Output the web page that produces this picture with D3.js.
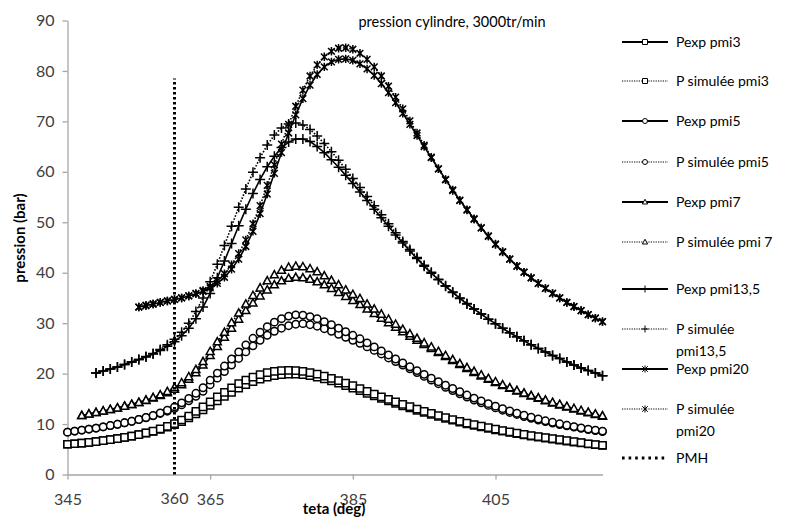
<!DOCTYPE html>
<html><head><meta charset="utf-8">
<script src="https://cdn.jsdelivr.net/npm/d3@7/dist/d3.min.js"></script>
<style>body{margin:0;background:#fff}svg{display:block}</style>
</head><body><svg id="c" width="792" height="518"></svg>
<script>
// ---------- DATA ----------
const teta = [345,346,347,348,349,350,351,352,353,354,355,356,357,358,359,360,361,362,363,364,
  365,366,367,368,369,370,371,372,373,374,375,376,377,378,379,380,381,382,383,384,
  385,386,387,388,389,390,391,392,393,394,395,396,397,398,399,400,401,402,403,404,
  405,406,407,408,409,410,411,412,413,414,415,416,417,418,419,420];
const pexp3 = [6.0,6.1,6.2,6.35,6.5,6.7,6.9,7.1,7.35,7.6,
  7.9,8.2,8.55,8.95,9.4,9.9,10.5,11.2,12.0,12.8,
  13.7,14.6,15.5,16.3,17.1,17.8,18.4,18.9,19.3,19.6,
  19.8,19.9,19.9,19.8,19.6,19.3,18.95,18.55,18.1,17.6,
  17.1,16.6,16.1,15.6,15.1,14.6,14.1,13.6,13.2,12.7,
  12.3,11.9,11.5,11.1,10.75,10.4,10.05,9.75,9.45,9.15,
  8.85,8.6,8.35,8.1,7.85,7.6,7.4,7.2,7.0,6.8,
  6.6,6.4,6.25,6.05,5.9,5.75];
const psim3 = [6.0,6.1,6.2,6.35,6.5,6.7,6.9,7.1,7.35,7.6,
  7.9,8.25,8.6,9.05,9.55,10.1,10.8,11.6,12.5,13.4,
  14.4,15.4,16.3,17.2,18.0,18.7,19.3,19.8,20.2,20.45,
  20.6,20.65,20.6,20.45,20.2,19.9,19.5,19.05,18.6,18.1,
  17.6,17.05,16.5,15.95,15.4,14.9,14.4,13.9,13.45,12.95,
  12.5,12.1,11.7,11.3,10.9,10.55,10.2,9.9,9.6,9.3,
  9.0,8.7,8.45,8.2,7.95,7.7,7.5,7.3,7.1,6.9,
  6.7,6.5,6.3,6.1,5.95,5.8];
const pexp5 = [8.4,8.6,8.8,9.0,9.2,9.45,9.7,9.95,10.25,10.55,
  10.9,11.25,11.65,12.1,12.55,13.1,13.8,14.6,15.5,16.5,
  17.8,19.1,20.4,21.7,23.0,24.3,25.5,26.6,27.6,28.4,
  29.0,29.5,29.8,29.9,29.7,29.4,28.9,28.4,27.8,27.2,
  26.6,26.0,25.3,24.6,23.9,23.1,22.4,21.7,20.95,20.2,
  19.45,18.7,18.0,17.3,16.65,16.0,15.35,14.75,14.2,13.7,
  13.2,12.75,12.3,11.9,11.5,11.15,10.8,10.5,10.2,9.9,
  9.65,9.4,9.15,8.9,8.7,8.5];
const psim5 = [8.4,8.6,8.8,9.0,9.2,9.45,9.7,9.95,10.25,10.55,
  10.9,11.3,11.7,12.2,12.75,13.4,14.2,15.1,16.1,17.2,
  18.7,20.1,21.5,22.9,24.3,25.7,27.0,28.2,29.3,30.2,
  30.9,31.4,31.65,31.6,31.3,30.9,30.3,29.7,29.0,28.3,
  27.6,26.9,26.1,25.3,24.5,23.7,22.9,22.1,21.35,20.6,
  19.85,19.1,18.4,17.7,17.05,16.4,15.75,15.15,14.6,14.05,
  13.55,13.05,12.6,12.15,11.75,11.35,11.0,10.65,10.35,10.05,
  9.75,9.5,9.25,9.0,8.8,8.6];
// pmi7 starts at 347 deg
const pexp7 = [11.7,12.0,12.3,12.6,12.9,13.2,13.55,13.9,
  14.3,14.7,15.15,15.65,16.2,16.9,17.8,18.9,20.2,21.7,
  23.6,25.4,27.2,29.0,30.8,32.5,34.0,35.4,36.6,37.6,
  38.4,38.9,39.1,39.0,38.7,38.2,37.6,36.9,36.1,35.3,
  34.5,33.7,32.8,31.9,31.0,30.1,29.2,28.3,27.4,26.6,
  25.8,25.0,24.2,23.4,22.6,21.8,21.0,20.25,19.55,18.9,
  18.25,17.65,17.1,16.55,16.05,15.55,15.1,14.65,14.2,13.8,
  13.4,13.0,12.6,12.25,11.9,11.55];
const psim7 = [11.7,12.0,12.3,12.6,12.9,13.2,13.55,13.9,
  14.3,14.75,15.25,15.8,16.45,17.25,18.2,19.4,20.8,22.4,
  24.4,26.3,28.2,30.1,32.0,33.8,35.5,37.0,38.4,39.6,
  40.5,41.1,41.3,41.2,40.8,40.2,39.4,38.5,37.6,36.6,
  35.7,34.9,33.8,32.8,31.8,30.8,29.8,28.8,27.9,27.0,
  26.1,25.3,24.4,23.6,22.8,22.0,21.2,20.45,19.75,19.05,
  18.4,17.8,17.2,16.65,16.15,15.65,15.2,14.75,14.3,13.9,
  13.5,13.1,12.7,12.35,12.0,11.65];
// pmi13,5 starts at 349 deg
const pexp135 = [20.1,20.5,20.9,21.3,21.8,22.3,
  22.8,23.3,23.9,24.6,25.4,26.3,27.5,29.0,30.9,33.2,
  35.9,39.0,42.3,45.8,49.3,52.6,55.7,58.5,61.0,63.1,
  64.8,65.9,66.5,66.5,66.0,65.0,63.8,62.4,60.9,59.3,
  57.7,56.0,54.3,52.6,50.9,49.2,47.5,45.9,44.3,42.8,
  41.3,39.9,38.6,37.3,36.1,34.9,33.8,32.8,31.8,30.8,
  29.9,29.0,28.1,27.3,26.5,25.7,25.0,24.3,23.6,23.0,
  22.3,21.7,21.1,20.6,20.1,19.6];
const psim135 = [20.1,20.5,20.9,21.3,21.8,22.3,
  22.8,23.4,24.0,24.8,25.7,26.8,28.2,30.0,32.3,35.0,
  38.2,41.7,45.4,49.2,53.0,56.6,59.9,62.8,65.3,67.3,
  68.7,69.5,69.7,69.3,68.4,67.1,65.6,64.0,62.3,60.5,
  58.7,56.9,55.1,53.3,51.5,49.7,47.9,46.2,44.6,43.0,
  41.5,40.1,38.7,37.4,36.2,35.0,33.9,32.8,31.8,30.8,
  29.9,29.0,28.1,27.3,26.5,25.7,25.0,24.3,23.6,23.0,
  22.3,21.7,21.1,20.6,20.1,19.6];
// pmi20 starts at 355 deg
const pexp20 = [33.2,33.5,33.8,34.1,34.4,34.7,35.0,35.4,35.8,36.3,
  37.0,37.9,39.1,40.7,42.7,45.2,48.2,51.7,55.6,59.7,
  63.8,67.7,71.3,74.5,77.2,79.3,80.8,81.8,82.3,82.4,
  82.1,81.4,80.4,79.1,77.5,75.7,73.7,71.6,69.4,67.2,
  65.0,62.8,60.6,58.5,56.4,54.4,52.5,50.7,48.9,47.2,
  45.6,44.1,42.7,41.3,40.1,39.0,37.9,36.9,35.9,35.0,
  34.1,33.3,32.5,31.7,31.0,30.3];
const psim20 = [33.2,33.5,33.8,34.1,34.4,34.7,35.0,35.4,35.9,36.5,
  37.3,38.4,39.8,41.6,43.8,46.5,49.7,53.3,57.3,61.4,
  65.5,69.4,73.0,76.2,79.0,81.2,82.8,83.9,84.5,84.6,
  84.3,83.5,82.3,80.8,79.0,77.0,74.8,72.5,70.1,67.7,
  65.3,62.9,60.6,58.4,56.3,54.3,52.4,50.6,48.9,47.3,
  45.7,44.2,42.7,41.3,40.1,39.0,37.9,36.9,35.9,35.0,
  34.1,33.3,32.5,31.7,31.0,30.3];
const pmhTeta = [360, 360];
const pmhP = [0, 78.5];

const xTicks = [345, 365, 385, 405];
const xExtraLabels = [360];
const yTicks = [0, 10, 20, 30, 40, 50, 60, 70, 80, 90];
const seriesNames = ["Pexp pmi3", "P simulée pmi3", "Pexp pmi5", "P simulée pmi5",
  "Pexp pmi7", "P simulée pmi 7", "Pexp pmi13,5", "P simulée pmi13,5",
  "Pexp pmi20", "P simulée pmi20", "PMH"];
const title = "pression cylindre, 3000tr/min";
const xTitle = "teta (deg)";
const yTitle = "pression (bar)";

// ---------- BUILD ----------
function zipFrom(startTeta, vals) {
  const i0 = teta.indexOf(startTeta);
  return vals.map((v, i) => [teta[i0 + i], v]);
}
const series = [
  {name: seriesNames[0], pts: zipFrom(345, pexp3), mk: "square", dotted: false},
  {name: seriesNames[1], pts: zipFrom(345, psim3), mk: "square", dotted: true},
  {name: seriesNames[2], pts: zipFrom(345, pexp5), mk: "circle", dotted: false},
  {name: seriesNames[3], pts: zipFrom(345, psim5), mk: "circle", dotted: true},
  {name: seriesNames[4], pts: zipFrom(347, pexp7), mk: "triangle", dotted: false},
  {name: seriesNames[5], pts: zipFrom(347, psim7), mk: "triangle", dotted: true},
  {name: seriesNames[6], pts: zipFrom(349, pexp135), mk: "plus", dotted: false},
  {name: seriesNames[7], pts: zipFrom(349, psim135), mk: "plus", dotted: true},
  {name: seriesNames[8], pts: zipFrom(355, pexp20), mk: "star", dotted: false},
  {name: seriesNames[9], pts: zipFrom(355, psim20), mk: "star", dotted: true}
];

const svg = d3.select("#c");
const W = 792, H = 518;
svg.append("rect").attr("width", W).attr("height", H).attr("fill", "#fff");

const x = d3.scaleLinear().domain([345, 420]).range([67.5, 602.5]);
const y = d3.scaleLinear().domain([0, 90]).range([474.5, 20.5]);

const FONT = "Lato, 'Open Sans', sans-serif";
const axisColor = "#a6a6a6";
const textColor = "#404040";

// axes
const gx = svg.append("g").attr("transform", `translate(0,${y(0)})`)
  .call(d3.axisBottom(x).tickValues(xTicks).tickSize(5).tickSizeOuter(0).tickPadding(14).tickFormat(d3.format("d")));
const gy = svg.append("g").attr("transform", `translate(${x(345)},0)`)
  .call(d3.axisLeft(y).tickValues(yTicks).tickSize(5).tickSizeOuter(0).tickPadding(8).tickFormat(d3.format("d")));
[gx, gy].forEach(g => {
  g.select(".domain").attr("stroke", axisColor).attr("stroke-width", 1.3);
  g.selectAll(".tick line").attr("stroke", axisColor).attr("stroke-width", 1.3);
  g.selectAll(".tick text").attr("fill", textColor).style("font-family", FONT).style("font-size", "16px");
});
// extra x label (360)
svg.selectAll(".xextra").data(xExtraLabels).enter().append("text")
  .attr("x", d => x(d)).attr("y", 504).attr("text-anchor", "middle")
  .attr("fill", textColor).style("font-family", FONT).style("font-size", "16px").text(d => d);

// marker path generator
function markerPath(type, s) {
  switch (type) {
    case "square": return `M${-s},${-s}H${s}V${s}H${-s}Z`;
    case "triangle": return `M0,${-s*1.1}L${s*1.05},${s*0.8}L${-s*1.05},${s*0.8}Z`;
    case "plus": return `M${-s},0H${s}M0,${-s}V${s}`;
    case "star": return `M${-s*0.8},${-s*0.8}L${s*0.8},${s*0.8}M${-s*0.8},${s*0.8}L${s*0.8},${-s*0.8}M0,${-s}V${s}`;
  }
  return "";
}
function drawMarker(g, type, cx, cy, s, sw) {
  if (type === "circle") {
    g.append("circle").attr("cx", cx).attr("cy", cy).attr("r", s)
      .attr("fill", "#fff").attr("stroke", "#000").attr("stroke-width", sw);
  } else {
    const filled = type === "square" || type === "triangle";
    g.append("path").attr("d", markerPath(type, s)).attr("transform", `translate(${cx},${cy})`)
      .attr("fill", filled ? "#fff" : "none").attr("stroke", "#000").attr("stroke-width", sw);
  }
}
const sizes = {square: 3.6, circle: 3.7, triangle: 3.8, plus: 5, star: 4.2};

const line = d3.line().x(d => x(d[0])).y(d => y(d[1]));
const plot = svg.append("g");
series.forEach(s => {
  const g = plot.append("g");
  g.append("path").datum(s.pts).attr("d", line).attr("fill", "none")
    .attr("stroke", "#000").attr("stroke-width", 1.6)
    .attr("stroke-dasharray", s.dotted ? "1.6,1.6" : null);
  s.pts.forEach(p => drawMarker(g, s.mk, x(p[0]), y(p[1]), sizes[s.mk], 1.5));
});
// PMH
const pmhPts = pmhTeta.map((t, i) => [t, pmhP[i]]);
plot.append("path").datum(pmhPts).attr("d", line).attr("fill", "none")
  .attr("stroke", "#000").attr("stroke-width", 3).attr("stroke-dasharray", "2.6,2.4");

// titles
svg.append("text").attr("x", 452).attr("y", 27).attr("text-anchor", "middle")
  .attr("fill", "#000").style("font-family", FONT).style("font-size", "14.5px").text(title);
svg.append("text").attr("x", 334).attr("y", 514).attr("text-anchor", "middle")
  .attr("fill", "#000").style("font-family", FONT).style("font-size", "15px").style("font-weight", "bold").text(xTitle);
svg.append("text").attr("transform", "translate(25,238) rotate(-90)").attr("text-anchor", "middle")
  .attr("fill", "#000").style("font-family", FONT).style("font-size", "15px").style("font-weight", "bold").text(yTitle);

// legend
const legendY = [42, 81, 121, 162, 202, 242, 289, 329, 369, 409, 458];
const lg = svg.append("g");
const lx0 = 622, lx1 = 668, tx = 676;
seriesNames.forEach((name, i) => {
  const cy = legendY[i];
  const g = lg.append("g");
  if (i < 10) {
    const s = series[i];
    g.append("line").attr("x1", lx0).attr("x2", lx1).attr("y1", cy).attr("y2", cy)
      .attr("stroke", "#000").attr("stroke-width", s.dotted ? 1.2 : 1.8)
      .attr("stroke-dasharray", s.dotted ? "1.2,1.2" : null);
    drawMarker(g, s.mk, (lx0 + lx1) / 2, cy, s.mk === "plus" || s.mk === "star" ? 3.5 : 2.5, 1);
  } else {
    g.append("line").attr("x1", lx0).attr("x2", lx1).attr("y1", cy).attr("y2", cy)
      .attr("stroke", "#000").attr("stroke-width", 3).attr("stroke-dasharray", "2.6,4");
  }
  const parts = name === "P simulée pmi13,5" ? ["P simulée", "pmi13,5"]
              : name === "P simulée pmi20" ? ["P simulée", "pmi20"] : [name];
  const t = g.append("text").attr("x", tx).attr("y", cy + 5)
    .attr("fill", "#000").style("font-family", FONT).style("font-size", "14px");
  parts.forEach((p, k) => t.append("tspan").attr("x", tx).attr("dy", k === 0 ? 0 : 22).text(p));
});
</script>
</body></html>
